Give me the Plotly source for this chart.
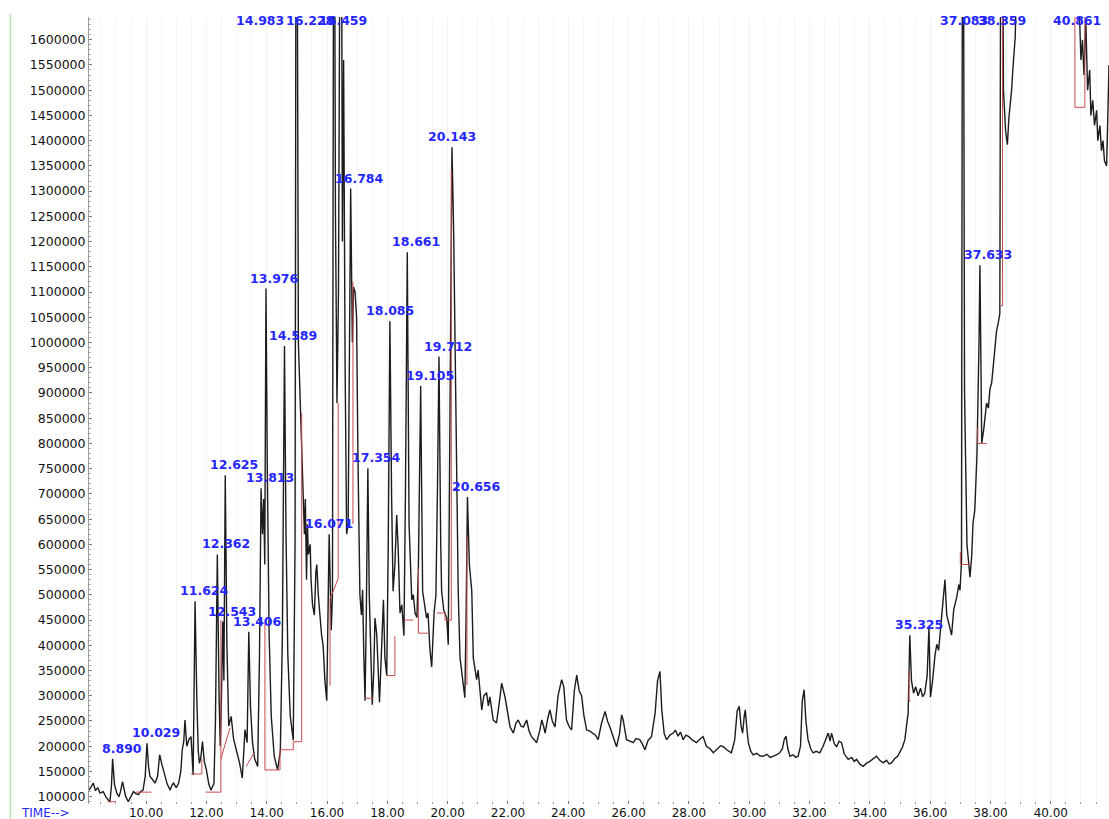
import plotly.graph_objects as go

# ---------------- data ----------------
time_min = [
    8.11, 8.18, 8.25, 8.32, 8.40, 8.47, 8.58, 8.68, 8.80, 8.85, 8.89, 8.95, 9.03, 9.10, 9.15, 9.22,
    9.27, 9.32, 9.41, 9.50, 9.58, 9.66, 9.74, 9.82, 9.90, 9.97, 10.03, 10.08, 10.13, 10.20, 10.30,
    10.38, 10.45, 10.52, 10.63, 10.70, 10.80, 10.85, 10.91, 11.00, 11.08, 11.15, 11.20, 11.25, 11.29,
    11.35, 11.42, 11.49, 11.56, 11.60, 11.624, 11.68, 11.73, 11.77, 11.82, 11.87, 11.93, 12.00, 12.08,
    12.15, 12.25, 12.30, 12.362, 12.42, 12.46, 12.50, 12.543, 12.58, 12.625, 12.68, 12.74, 12.82,
    12.90, 12.96, 13.04, 13.10, 13.19, 13.24, 13.28, 13.35, 13.406, 13.46, 13.53, 13.60, 13.70, 13.76,
    13.813, 13.86, 13.90, 13.935, 13.976, 14.02, 14.08, 14.15, 14.25, 14.36, 14.45, 14.52, 14.589,
    14.64, 14.70, 14.78, 14.88, 14.94, 14.983, 15.05, 15.12, 15.18, 15.21, 15.25, 15.28, 15.32, 15.35,
    15.38, 15.44, 15.47, 15.52, 15.58, 15.63, 15.66, 15.71, 15.77, 15.82, 15.87, 15.93, 15.99, 16.03,
    16.071, 16.10, 16.14, 16.18, 16.228, 16.28, 16.33, 16.38, 16.459, 16.51, 16.55, 16.60, 16.65,
    16.70, 16.74, 16.784, 16.84, 16.88, 16.93, 16.98, 17.02, 17.05, 17.09, 17.14, 17.18, 17.22, 17.26,
    17.30, 17.354, 17.40, 17.45, 17.50, 17.55, 17.59, 17.65, 17.70, 17.74, 17.80, 17.87, 17.92, 17.98,
    18.03, 18.085, 18.14, 18.19, 18.25, 18.31, 18.36, 18.42, 18.48, 18.55, 18.60, 18.661, 18.72,
    18.81, 18.86, 18.92, 18.98, 19.03, 19.105, 19.17, 19.30, 19.35, 19.41, 19.47, 19.55, 19.61, 19.66,
    19.712, 19.77, 19.80, 19.87, 19.97, 20.02, 20.08, 20.143, 20.20, 20.24, 20.30, 20.35, 20.41, 20.52,
    20.57, 20.61, 20.656, 20.72, 20.80, 20.85, 20.96, 21.01, 21.13, 21.20, 21.29, 21.35, 21.40, 21.51,
    21.62, 21.72, 21.79, 21.90, 22.00, 22.07, 22.18, 22.26, 22.34, 22.43, 22.51, 22.62, 22.70, 22.78,
    22.87, 22.95, 23.05, 23.12, 23.18, 23.23, 23.32, 23.39, 23.47, 23.56, 23.66, 23.78, 23.85, 23.94,
    24.02, 24.11, 24.20, 24.28, 24.36, 24.44, 24.52, 24.61, 24.72, 24.83, 24.90, 24.99, 25.10, 25.22,
    25.30, 25.38, 25.48, 25.60, 25.70, 25.77, 25.82, 25.93, 26.05, 26.15, 26.25, 26.37, 26.45, 26.54,
    26.65, 26.76, 26.88, 26.96, 27.04, 27.10, 27.18, 27.26, 27.37, 27.48, 27.55, 27.64, 27.72, 27.81,
    27.90, 28.00, 28.12, 28.25, 28.36, 28.47, 28.58, 28.70, 28.81, 28.95, 29.05, 29.14, 29.25, 29.41,
    29.52, 29.60, 29.67, 29.73, 29.78, 29.84, 29.87, 29.93, 29.97, 30.05, 30.13, 30.25, 30.35, 30.46,
    30.58, 30.70, 30.79, 30.90, 31.01, 31.10, 31.16, 31.22, 31.28, 31.35, 31.45, 31.55, 31.62, 31.70,
    31.76, 31.82, 31.88, 31.95, 32.04, 32.12, 32.22, 32.34, 32.45, 32.55, 32.62, 32.68, 32.73, 32.82,
    32.90, 32.98, 33.06, 33.15, 33.28, 33.40, 33.48, 33.56, 33.66, 33.78, 33.88, 34.00, 34.10, 34.22,
    34.33, 34.44, 34.55, 34.64, 34.72, 34.82, 34.92, 34.99, 35.08, 35.16, 35.22, 35.27, 35.325, 35.38,
    35.45, 35.52, 35.60, 35.68, 35.75, 35.82, 35.90, 35.96, 36.01, 36.08, 36.16, 36.22, 36.28, 36.36,
    36.45, 36.49, 36.55, 36.62, 36.71, 36.78, 36.88, 36.95, 36.99, 37.04, 37.083, 37.14, 37.22, 37.32,
    37.38, 37.42, 37.48, 37.55, 37.58, 37.62, 37.65, 37.68, 37.71, 37.78, 37.87, 37.93, 37.98, 38.04,
    38.08, 38.14, 38.20, 38.26, 38.31, 38.359, 38.43, 38.50, 38.56, 38.61, 38.66, 38.70, 38.74, 38.78,
    38.82, 38.86, 39.20, 39.80, 40.40, 40.861, 40.95, 41.00, 41.05, 41.10, 41.16, 41.22, 41.29, 41.33,
    41.39, 41.45, 41.52, 41.56, 41.63, 41.68, 41.73, 41.78, 41.85, 41.88, 41.93,
]

abundance = [
    113000, 120000, 127000, 112000, 118000, 107000, 110000, 98000, 90000, 120000, 175000, 125000,
    107000, 100000, 110000, 130000, 115000, 101000, 90000, 102000, 110000, 106000, 104000, 110000,
    113000, 140000, 206000, 160000, 140000, 135000, 127000, 140000, 183000, 165000, 140000, 125000,
    113000, 122000, 127000, 118000, 127000, 150000, 193000, 210000, 252000, 200000, 213000, 219000,
    143000, 300000, 487000, 300000, 190000, 166000, 180000, 209000, 170000, 153000, 125000, 113000,
    126000, 250000, 580000, 300000, 200000, 300000, 447000, 330000, 737000, 400000, 240000, 259000,
    215000, 200000, 180000, 167000, 137000, 200000, 233000, 207000, 427000, 280000, 207000, 175000,
    160000, 380000, 711000, 620000, 690000, 560000, 1107000, 750000, 420000, 260000, 180000, 153000,
    190000, 420000, 993000, 620000, 380000, 260000, 212000, 600000, 2400000, 1000000, 860000, 760000,
    710000, 620000, 690000, 530000, 640000, 580000, 600000, 530000, 480000, 460000, 545000, 560000,
    500000, 450000, 420000, 400000, 330000, 290000, 450000, 620000, 540000, 430000, 500000, 2300000,
    1250000, 880000, 1100000, 2300000, 1200000, 1560000, 950000, 620000, 640000, 900000, 1305000,
    1000000, 1110000, 1100000, 1050000, 800000, 660000, 500000, 460000, 510000, 380000, 290000,
    450000, 751000, 500000, 361000, 282000, 350000, 454000, 420000, 332000, 287000, 380000, 490000,
    375000, 340000, 600000, 1042000, 700000, 507000, 560000, 658000, 590000, 464000, 480000, 419000,
    700000, 1179000, 640000, 490000, 500000, 464000, 455000, 552000, 914000, 507000, 454000, 464000,
    393000, 357000, 464000, 499000, 700000, 972000, 600000, 507000, 470000, 454000, 401000, 900000,
    1387000, 1215000, 1040000, 680000, 507000, 375000, 314000, 296000, 450000, 694000, 560000,
    507000, 375000, 332000, 351000, 272000, 300000, 306000, 280000, 298000, 252000, 246000, 290000,
    325000, 298000, 260000, 238000, 226000, 245000, 252000, 240000, 238000, 252000, 230000, 219000,
    213000, 207000, 230000, 252000, 240000, 226000, 255000, 272000, 250000, 238000, 300000, 332000,
    318000, 252000, 240000, 232000, 310000, 341000, 310000, 300000, 260000, 232000, 230000, 226000,
    222000, 213000, 245000, 269000, 250000, 238000, 220000, 199000, 225000, 262000, 252000, 213000,
    210000, 207000, 215000, 213000, 205000, 193000, 212000, 219000, 266000, 330000, 348000, 272000,
    225000, 213000, 222000, 226000, 232000, 220000, 228000, 213000, 222000, 219000, 212000, 207000,
    214000, 219000, 200000, 195000, 187000, 195000, 201000, 199000, 193000, 187000, 213000, 270000,
    279000, 240000, 226000, 262000, 272000, 230000, 207000, 190000, 183000, 186000, 181000, 180000,
    184000, 178000, 180000, 183000, 187000, 195000, 213000, 220000, 195000, 180000, 183000, 178000,
    180000, 200000, 290000, 312000, 250000, 213000, 195000, 187000, 190000, 187000, 200000, 215000,
    226000, 210000, 226000, 205000, 199000, 210000, 207000, 185000, 174000, 178000, 170000, 174000,
    165000, 160000, 166000, 170000, 175000, 180000, 172000, 167000, 172000, 165000, 167000, 175000,
    180000, 187000, 198000, 213000, 240000, 266000, 420000, 330000, 305000, 318000, 300000, 315000,
    298000, 305000, 340000, 435000, 297000, 330000, 380000, 402000, 390000, 450000, 500000, 530000,
    460000, 440000, 420000, 470000, 495000, 520000, 509000, 567000, 2400000, 900000, 600000, 535000,
    580000, 642000, 668000, 775000, 854000, 1000000, 1153000, 950000, 800000, 830000, 880000, 870000,
    907000, 920000, 950000, 990000, 1022000, 1040000, 1057000, 2400000, 1500000, 1420000, 1392000,
    1445000, 1470000, 1500000, 1540000, 1570000, 1605000, 1700000, 2000000, 2200000, 2000000,
    2400000, 1650000, 1560000, 1600000, 1530000, 1640000, 1500000, 1540000, 1450000, 1480000,
    1430000, 1460000, 1400000, 1430000, 1380000, 1400000, 1360000, 1350000, 1420000, 1550000,
]

# integration baselines / drop lines (None separates segments)
baseline_time = [
    8.72, 9.00, None,
    9.66, 10.18, None,
    11.50, 11.85, 11.85, None,
    11.98, 12.48, 12.48, None,
    12.48, 12.78, None,
    13.32, 13.58, None,
    13.94, 13.94, 14.44, 14.44, 14.88, 14.88, 15.16, 15.16, None,
    16.10, 16.10, 16.37, 16.37, None,
    16.86, 16.86, None,
    17.26, 17.53, None,
    17.98, 18.25, 18.25, None,
    18.55, 18.86, None,
    19.03, 19.03, 19.36, None,
    19.64, 19.91, 19.91, 20.12, 20.12, None,
    20.62, 20.64, 20.64, None,
    35.30, 35.30, 35.36, None,
    37.00, 37.00, 37.36, None,
    37.58, 37.58, 37.87, None,
    38.33, 38.40, 38.40, None,
    40.80, 40.80, 41.13, 41.13,
]
baseline_abund = [
    90000, 90000, None,
    109000, 109000, None,
    145000, 145000, 175000, None,
    109000, 109000, 450000, None,
    175000, 236000, None,
    160000, 187000, None,
    445000, 153000, 153000, 193000, 193000, 209000, 209000, 860000, None,
    320000, 492000, 532000, 880000, None,
    640000, 1120000, None,
    295000, 295000, None,
    340000, 340000, 418000, None,
    450000, 450000, None,
    552000, 424000, 424000, None,
    464000, 464000, 450000, 450000, 1340000, None,
    322000, 322000, 615000, None,
    350000, 290000, 290000, None,
    585000, 560000, 560000, None,
    832000, 800000, 800000, None,
    1073000, 1073000, 1700000, None,
    1700000, 1466000, 1466000, 1700000,
]

peak_rt = [8.890, 10.029, 11.624, 12.362, 12.543, 12.625, 13.406, 13.813, 13.976, 14.589,
           14.983, 16.228, 16.459, 16.071, 16.784, 17.354, 18.085, 18.661, 19.105, 19.712,
           20.143, 20.656, 35.325, 37.083, 37.633, 38.359, 40.861]
peak_apex = [175000, 206000, 487000, 580000, 447000, 737000, 427000, 711000, 1107000, 993000,
             2400000, 2300000, 2300000, 620000, 1305000, 751000, 1042000, 1179000, 914000, 972000,
             1387000, 694000, 420000, 2400000, 1153000, 2400000, 2400000]
peak_labels = ["8.890", "10.029", "11.624", "12.362", "12.543", "12.625", "13.406", "13.813",
               "13.976", "14.589", "14.983", "16.228", "16.459", "16.071", "16.784", "17.354",
               "18.085", "18.661", "19.105", "19.712", "20.143", "20.656", "35.325", "37.083",
               "37.633", "38.359", "40.861"]

y_tick_vals = list(range(100000, 1600001, 50000))
x_tick_vals = [10, 12, 14, 16, 18, 20, 22, 24, 26, 28, 30, 32, 34, 36, 38, 40]

# ---------------- styling ----------------
X_RANGE = [8.107, 41.93]
Y_RANGE = [85500, 1645000]
LABEL_BLUE = "#2626ff"
FONT = "DejaVu Sans"

# horizontal nudges of the peak labels (pixels), as placed in the original
label_shift = {"14.983": -36, "16.228": -24, "16.459": 2, "16.071": 0, "18.085": 0,
               "20.143": 0, "37.083": 1, "38.359": 1, "40.861": 0}

fig = go.Figure()
fig.add_trace(go.Scatter(x=time_min, y=abundance, mode="lines",
                         line=dict(color="#1c1c1c", width=1.4), hoverinfo="skip",
                         showlegend=False))
fig.add_trace(go.Scatter(x=baseline_time, y=baseline_abund, mode="lines",
                         line=dict(color="#c94a4a", width=1), connectgaps=False,
                         hoverinfo="skip", showlegend=False))

for rt, ap, lab in zip(peak_rt, peak_apex, peak_labels):
    off_scale = ap > Y_RANGE[1]
    fig.add_annotation(
        x=rt, y=Y_RANGE[1] if off_scale else ap,
        text=lab, showarrow=False,
        xanchor="center",
        yanchor="top" if off_scale else "bottom",
        xshift=label_shift.get(lab, 9),
        yshift=6 if off_scale else 1,
        font=dict(family=FONT, size=12.5, color=LABEL_BLUE, weight="bold"),
    )

fig.add_annotation(xref="paper", yref="paper", x=-0.0425, y=-0.012,
                   text="TIME-->", showarrow=False, xanchor="center", yanchor="middle",
                   font=dict(family=FONT, size=12, color=LABEL_BLUE))

fig.add_shape(type="line", xref="paper", yref="paper", x0=-0.077, x1=-0.077,
              y0=-0.02, y1=1.004, line=dict(color="#b8e6b0", width=1.5))

fig.update_layout(
    width=1109, height=819,
    margin=dict(l=89, r=0, t=17, b=15, autoexpand=False),
    paper_bgcolor="white", plot_bgcolor="white",
    font=dict(family=FONT, color="#111111"),
    xaxis=dict(range=X_RANGE, tickvals=x_tick_vals, tickformat=".2f", automargin=False,
               showgrid=True, gridcolor="#f2f2f2", zeroline=False,
               showline=False, ticks="inside", ticklen=3, tickcolor="#777",
               tickfont=dict(family=FONT, size=12, color="#111"),
               minor=dict(dtick=0.5, tick0=0, ticks="inside", ticklen=2,
                          tickcolor="#999", showgrid=True, gridcolor="#f5f5f5")),
    yaxis=dict(range=Y_RANGE, tickvals=y_tick_vals, tickformat="d", automargin=False,
               showgrid=False, zeroline=False, showline=True, linecolor="#9a9a9a",
               linewidth=1, ticks="inside", ticklen=3, tickcolor="#777",
               tickfont=dict(family=FONT, size=12.5, color="#111"),
               minor=dict(dtick=10000, ticks="inside", ticklen=2, tickcolor="#aaa")),
)

# the page's default body margin would offset the figure; remove it
fig.write_html("out.html", config={"displayModeBar": False},
               post_script="document.body.style.margin='0';document.body.style.overflow='hidden';")
